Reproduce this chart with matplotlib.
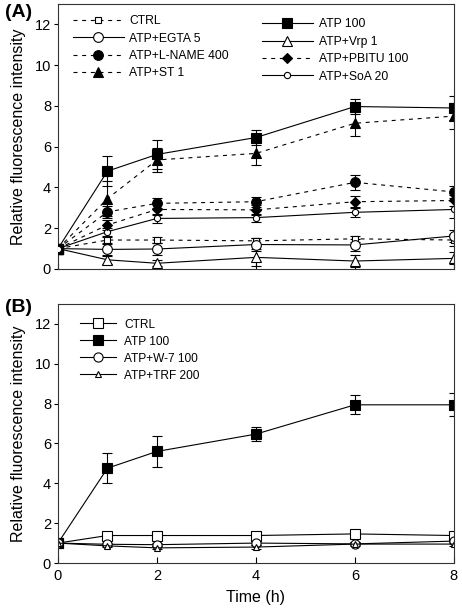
import numpy as np
import matplotlib
matplotlib.use("Agg")
import matplotlib.pyplot as plt

plt.rcParams["font.family"] = ["Liberation Sans", "DejaVu Sans"]

time_h = [0, 1, 2, 4, 6, 8]

# panel A
a_ctrl = [1.0, 1.42, 1.42, 1.38, 1.48, 1.42]
a_ctrl_err = [0, 0.15, 0.15, 0.15, 0.15, 0.3]
a_egta = [1.0, 0.96, 0.98, 1.2, 1.18, 1.62]
a_egta_err = [0, 0.25, 0.3, 0.3, 0.3, 0.3]
a_lname = [1.0, 2.8, 3.22, 3.3, 4.25, 3.78]
a_lname_err = [0, 0.3, 0.25, 0.25, 0.38, 0.3]
a_st = [1.0, 3.45, 5.35, 5.67, 7.15, 7.5]
a_st_err = [0, 0.85, 0.57, 0.55, 0.65, 0.65]
a_atp = [1.0, 4.8, 5.62, 6.45, 7.97, 7.9]
a_atp_err = [0, 0.74, 0.72, 0.36, 0.36, 0.6]
a_vrp = [1.0, 0.45, 0.28, 0.57, 0.39, 0.52]
a_vrp_err = [0, 0.2, 0.15, 0.4, 0.3, 0.3]
a_pbitu = [1.0, 2.16, 2.92, 2.9, 3.3, 3.36]
a_pbitu_err = [0, 0.25, 0.25, 0.25, 0.3, 0.25]
a_soa = [1.0, 1.83, 2.48, 2.52, 2.78, 2.92]
a_soa_err = [0, 0.2, 0.23, 0.2, 0.25, 0.42]
a_labels_left = ["CTRL", "ATP+EGTA 5", "ATP+L-NAME 400", "ATP+ST 1"]
a_labels_right = ["ATP 100", "ATP+Vrp 1", "ATP+PBITU 100", "ATP+SoA 20"]

# panel B
b_ctrl = [1.0, 1.38, 1.38, 1.38, 1.46, 1.38]
b_ctrl_err = [0, 0.08, 0.08, 0.08, 0.1, 0.1]
b_atp = [1.0, 4.76, 5.6, 6.47, 7.94, 7.94]
b_atp_err = [0, 0.76, 0.78, 0.37, 0.47, 0.57]
b_w7 = [1.0, 0.94, 0.92, 1.0, 0.96, 1.1]
b_w7_err = [0, 0.08, 0.08, 0.08, 0.08, 0.1]
b_trf = [1.0, 0.86, 0.76, 0.8, 0.95, 0.95]
b_trf_err = [0, 0.08, 0.08, 0.08, 0.08, 0.1]
b_labels = ["CTRL", "ATP 100", "ATP+W-7 100", "ATP+TRF 200"]

dash = (0, (3.6, 4.2))
lw = 0.8


def series(ax, y, err, marker, ms, fc, ls):
  c = ax.errorbar(time_h, y, yerr=err, marker=marker, ms=ms, mfc=fc, mec="black", mew=0.8,
                  color="black", lw=lw, ls=ls, elinewidth=0.8, capsize=3.6, capthick=0.8)
  return c[0]


fig = plt.figure(figsize=(4.62, 6.08), dpi=100)
ax1 = fig.add_axes([0.1255, 0.5576, 0.857, 0.4358])
ax2 = fig.add_axes([0.1255, 0.074, 0.857, 0.426])

h_ctrl = series(ax1, a_ctrl, a_ctrl_err, "s", 5, "white", dash)
h_egta = series(ax1, a_egta, a_egta_err, "o", 7, "white", "-")
h_vrp = series(ax1, a_vrp, a_vrp_err, "^", 6.5, "white", "-")
h_soa = series(ax1, a_soa, a_soa_err, "o", 4.5, "white", "-")
h_pbitu = series(ax1, a_pbitu, a_pbitu_err, "D", 5.2, "black", dash)
h_lname = series(ax1, a_lname, a_lname_err, "o", 7, "black", dash)
h_st = series(ax1, a_st, a_st_err, "^", 6.8, "black", dash)
h_atp = series(ax1, a_atp, a_atp_err, "s", 7.4, "black", "-")
# start point: black square with the small open circle on top
ax1.plot(time_h[:1], a_atp[:1], marker="s", ms=7.4, mfc="black", mec="black", ls="none", zorder=5)
ax1.plot(time_h[:1], a_soa[:1], marker="o", ms=4.5, mfc="white", mec="black", mew=0.8, ls="none", zorder=6)

leg1 = ax1.legend([h_ctrl, h_egta, h_lname, h_st], a_labels_left, loc="upper left",
                  bbox_to_anchor=(0.038, 0.958), frameon=False, fontsize=8.7,
                  handlelength=4.2, handletextpad=0.45, labelspacing=0.45,
                  borderpad=0, borderaxespad=0, numpoints=1)
ax1.add_artist(leg1)
ax1.legend([h_atp, h_vrp, h_pbitu, h_soa], a_labels_right, loc="upper left",
           bbox_to_anchor=(0.515, 0.946), frameon=False, fontsize=8.7,
           handlelength=4.2, handletextpad=0.55, labelspacing=0.45,
           borderpad=0, borderaxespad=0, numpoints=1)

g_ctrl = series(ax2, b_ctrl, b_ctrl_err, "s", 7, "white", "-")
g_atp = series(ax2, b_atp, b_atp_err, "s", 7.6, "black", "-")
g_w7 = series(ax2, b_w7, b_w7_err, "o", 6.6, "white", "-")
g_trf = series(ax2, b_trf, b_trf_err, "^", 5, "white", "-")
ax2.legend([g_ctrl, g_atp, g_w7, g_trf], b_labels, loc="upper left",
           bbox_to_anchor=(0.056, 0.944), frameon=False, fontsize=8.6,
           handlelength=3.0, handletextpad=0.7, labelspacing=0.42,
           borderpad=0, borderaxespad=0, numpoints=1)

for ax in (ax1, ax2):
  ax.set_xlim(0, 8)
  ax.set_ylim(0, 13)
  ax.set_xticks([0, 2, 4, 6, 8])
  ax.set_yticks([0, 2, 4, 6, 8, 10, 12])
  ax.tick_params(axis="y", direction="out", length=3, width=0.8, labelsize=10.5, pad=2)
  ax.tick_params(axis="x", direction="in", length=4, width=0.8, labelsize=10.5, pad=4)
  for s in ax.spines.values():
    s.set_linewidth(0.8)
    s.set_color("#333333")
  ax.set_ylabel("Relative fluorescence intensity", fontsize=11.5, labelpad=6)

ax1.tick_params(axis="x", labelbottom=False)
ax2.set_xlabel("Time (h)", fontsize=11.5, labelpad=5)

fig.text(0.011, 0.98, "(A)", fontsize=14, fontweight="bold", va="center", ha="left")
fig.text(0.011, 0.495, "(B)", fontsize=14, fontweight="bold", va="center", ha="left")

fig.savefig("out.png", dpi=100)
